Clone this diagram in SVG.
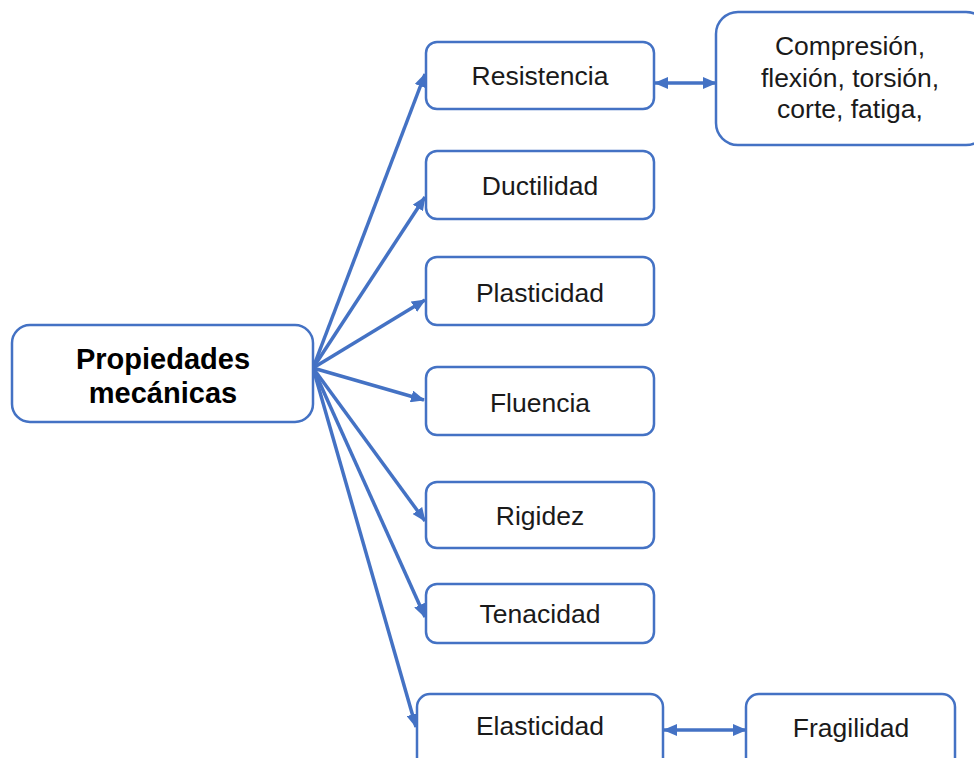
<svg xmlns="http://www.w3.org/2000/svg" width="974" height="758" viewBox="0 0 974 758">
<style>
.box{fill:#fff;stroke:#4472C4;stroke-width:2.5}
.t{font-family:"Liberation Sans",Arial,sans-serif;font-size:26.5px;fill:#1a1a1a;text-anchor:middle}
.b{font-weight:bold;font-size:29px;fill:#000}
.c{stroke:#4472C4;stroke-width:3.5;fill:none}
</style>
<defs>
<marker id="ah" viewBox="0 0 14 12" refX="13" refY="6" markerWidth="14" markerHeight="12" markerUnits="userSpaceOnUse" orient="auto-start-reverse">
<path d="M0,0 L14,6 L0,12 Z" fill="#4472C4"/>
</marker>
</defs>
<rect width="974" height="758" fill="#fff"/>
<g id="connectors">
<line class="c" x1="313" y1="368" x2="425" y2="74" marker-end="url(#ah)"/>
<line class="c" x1="313" y1="368" x2="425" y2="197" marker-end="url(#ah)"/>
<line class="c" x1="313" y1="368" x2="425" y2="300" marker-end="url(#ah)"/>
<line class="c" x1="313" y1="368" x2="424" y2="400" marker-end="url(#ah)"/>
<line class="c" x1="313" y1="368" x2="425" y2="521" marker-end="url(#ah)"/>
<line class="c" x1="313" y1="368" x2="425" y2="617" marker-end="url(#ah)"/>
<line class="c" x1="313" y1="368" x2="416" y2="727" marker-end="url(#ah)"/>
<line class="c" x1="655" y1="83" x2="716" y2="83" marker-start="url(#ah)" marker-end="url(#ah)"/>
<line class="c" x1="664" y1="730" x2="746" y2="730" marker-start="url(#ah)" marker-end="url(#ah)"/>
</g>
<g id="n-propiedades"><rect class="box" x="12" y="325" width="301" height="97" rx="18"/><text class="t b" x="163" y="369">Propiedades</text><text class="t b" x="163" y="403">mecánicas</text></g>
<g id="n-resistencia"><rect class="box" x="426" y="42" width="228" height="67" rx="11"/><text class="t" x="540" y="85">Resistencia</text></g>
<g id="n-compresion"><rect class="box" x="716" y="12" width="272" height="133" rx="22"/><text class="t" x="850" y="55">Compresión,</text><text class="t" x="850" y="87">flexión, torsión,</text><text class="t" x="850" y="118">corte, fatiga,</text></g>
<g id="n-ductilidad"><rect class="box" x="426" y="151" width="228" height="68" rx="11"/><text class="t" x="540" y="195">Ductilidad</text></g>
<g id="n-plasticidad"><rect class="box" x="426" y="257" width="228" height="68" rx="11"/><text class="t" x="540" y="302">Plasticidad</text></g>
<g id="n-fluencia"><rect class="box" x="426" y="367" width="228" height="68" rx="11"/><text class="t" x="540" y="412">Fluencia</text></g>
<g id="n-rigidez"><rect class="box" x="426" y="482" width="228" height="66" rx="11"/><text class="t" x="540" y="525">Rigidez</text></g>
<g id="n-tenacidad"><rect class="box" x="426" y="584" width="228" height="59" rx="11"/><text class="t" x="540" y="623">Tenacidad</text></g>
<g id="n-elasticidad"><rect class="box" x="417" y="694" width="246" height="80" rx="13"/><text class="t" x="540" y="735">Elasticidad</text></g>
<g id="n-fragilidad"><rect class="box" x="746" y="694" width="209" height="80" rx="13"/><text class="t" x="851" y="737">Fragilidad</text></g>
</svg>
